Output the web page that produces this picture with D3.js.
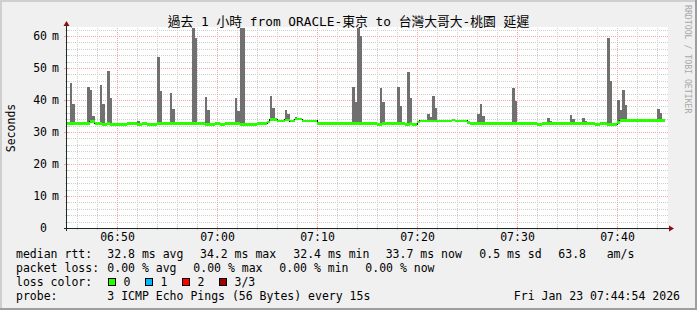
<!DOCTYPE html>
<html><head><meta charset="utf-8">
<script src="https://cdn.jsdelivr.net/npm/d3@7"></script>
<style>
body{margin:0;background:#f0f0f0}
svg{display:block}
text{font-family:"DejaVu Sans Mono","Noto Sans CJK TC",monospace;fill:#000}
</style>
</head><body><svg id="c" width="697" height="310"></svg>
<script>
// ---------------- data ----------------
const title = "過去 1 小時 from ORACLE-東京 to 台灣大哥大-桃園 延遲";
const yAxisTitle = "Seconds";
const watermark = "RRDTOOL / TOBI OETIKER";
const startTime = "06:45:00";
const endTime = "07:45:00";
const stepSeconds = 15;
const yMax = 62.5;
const yTickValues = [0, 10, 20, 30, 40, 50, 60];
const yTickLabels = ["0", "10", "20", "30", "40", "50", "60"];
const yTickUnits = ["", "m", "m", "m", "m", "m", "m"];
const xTickLabels = ["06:50", "07:00", "07:10", "07:20", "07:30", "07:40"];

// median rtt (ms), step function: value holds from time until next time
const medianTimes = ["06:45:00","06:47:15","06:47:45","06:48:30","06:49:00","06:49:15","06:51:00","06:52:00","06:52:30","06:53:00","06:54:00","06:58:45","06:59:45","07:00:15","07:00:45","07:02:15","07:04:00","07:05:00","07:05:15","07:06:00","07:06:45","07:07:15","07:07:45","07:08:30","07:10:00","07:16:00","07:16:30","07:18:45","07:19:15","07:19:30","07:20:00","07:20:15","07:23:30","07:23:45","07:25:00","07:25:15","07:32:00","07:32:30","07:37:45","07:38:15","07:39:00","07:40:00","07:40:15"];
const medianValues = [32.7,33.3,32.7,32.4,32.7,32.4,32.7,32.4,32.7,32.4,32.7,32.4,32.7,32.4,32.6,32.4,32.6,33.2,33.9,33.4,33.8,33.4,34.0,33.5,32.6,32.4,32.6,32.4,32.6,32.4,33.2,33.5,33.8,33.5,33.0,32.6,32.4,32.6,32.4,32.6,32.4,33.0,33.6];
const medianEnd = "07:44:45";

// smoke: highest ping (ms) per 15 s step where it rises above the median
const smokeTimes = ["06:45:15","06:45:30","06:47:00","06:47:15","06:47:30","06:48:15","06:48:30","06:49:00","06:49:15","06:52:00","06:54:00","06:54:15","06:55:15","06:55:30","06:56:15","06:57:30","06:57:45","06:58:45","06:59:00","07:01:45","07:02:00","07:02:15","07:02:30","07:05:15","07:05:30","07:06:45","07:07:00","07:07:45","07:08:00","07:13:30","07:13:45","07:14:00","07:14:15","07:16:15","07:16:30","07:18:00","07:18:15","07:19:00","07:19:15","07:21:00","07:21:15","07:21:30","07:21:45","07:26:00","07:26:15","07:26:30","07:29:30","07:29:45","07:33:00","07:33:15","07:35:15","07:35:30","07:36:30","07:36:45","07:39:00","07:39:15","07:40:00","07:40:15","07:40:30","07:40:45","07:44:00","07:44:15"];
const smokeMax = [45.3,38.8,44.2,43.1,35.0,44.7,38.8,49.2,40.6,33.4,53.5,42.8,42.2,37.2,33.0,65.0,59.4,40.9,36.9,40.6,36.6,66.0,64.0,41.3,37.5,36.9,35.6,34.7,34.4,44.1,39.4,64.0,60.0,43.8,39.4,44.1,38.1,48.8,40.6,35.6,34.7,41.3,37.5,35.6,38.8,35.0,43.8,39.8,34.4,33.4,35.3,34.1,34.4,33.4,59.4,45.9,40.0,36.9,43.1,38.4,37.2,35.9];

const rttLabel = "median rtt:";
const rttStats = ["32.8 ms avg","34.2 ms max","32.4 ms min","33.7 ms now","0.5 ms sd","63.8","am/s"];
const lossLabel = "packet loss:";
const lossStats = ["0.00 % avg","0.00 % max","0.00 % min","0.00 % now"];
const lossColorLabel = "loss color:";
const lossColorNames = ["0","1","2","3/3"];
const lossColors = ["#26ff00","#00b8ff","#ff0000","#a00000"];
const probeLabel = "probe:";
const probeText = "3 ICMP Echo Pings (56 Bytes) every 15s";
const stampText = "Fri Jan 23 07:44:54 2026";

// ---------------- drawing ----------------
const W = 697, H = 310;
const L = 67, R = 667, T = 28, B = 228;
const svg = d3.select("#c");
const parse = d3.timeParse("%H:%M:%S");

// background + frame
svg.append("rect").attr("width", W).attr("height", H).attr("fill", "#f0f0f0");
svg.append("path").attr("d", `M0,${H} V0 H${W}`).attr("fill","none").attr("stroke","#cfcfcf").attr("stroke-width",4);
svg.append("path").attr("d", `M${W},0 V${H} H0`).attr("fill","none").attr("stroke","#9e9e9e").attr("stroke-width",4);

svg.append("rect").attr("x", L).attr("y", T - 1).attr("width", R - L + 1).attr("height", B - T + 1).attr("fill", "#fff");

const x = d3.scaleTime().domain([parse(startTime), parse(endTime)]).range([L, R]);
const y = d3.scaleLinear().domain([0, yMax]).range([B, T]);

const g = svg.append("g").attr("shape-rendering", "crispEdges");

// grid
const gridMinor = "#cfcfcf", gridMajor = "#efa9a9";
const yMinor = d3.range(2, yMax, 2).filter(v => v % 10 !== 0);
g.selectAll(".hmin").data(yMinor).join("line")
  .attr("x1", L).attr("x2", R + 1).attr("y1", d => Math.round(y(d)) + 0.5).attr("y2", d => Math.round(y(d)) + 0.5)
  .attr("stroke", gridMinor).attr("stroke-dasharray", "1,1");
const xMinorTicks = x.ticks(d3.timeMinute.every(2));
const xMajorTicks = x.ticks(d3.timeMinute.every(10));
const isMajor = d => d.getMinutes() % 10 === 0;
g.selectAll(".vmin").data(xMinorTicks.filter(d => !isMajor(d) && x(d) > L)).join("line")
  .attr("x1", d => Math.round(x(d)) + 0.5).attr("x2", d => Math.round(x(d)) + 0.5).attr("y1", T).attr("y2", B)
  .attr("stroke", gridMinor).attr("stroke-dasharray", "1,1");
g.selectAll(".hmaj").data(yTickValues.filter(v => v > 0)).join("line")
  .attr("x1", L).attr("x2", R + 1).attr("y1", d => Math.round(y(d)) + 0.5).attr("y2", d => Math.round(y(d)) + 0.5)
  .attr("stroke", gridMajor).attr("stroke-dasharray", "1,1");
g.selectAll(".vmaj").data(xMajorTicks).join("line")
  .attr("x1", d => Math.round(x(d)) + 0.5).attr("x2", d => Math.round(x(d)) + 0.5).attr("y1", T).attr("y2", B)
  .attr("stroke", gridMajor).attr("stroke-dasharray", "1,1");

// ticks on axes
g.selectAll(".xt").data(xMinorTicks).join("line")
  .attr("x1", d => Math.round(x(d)) + 0.5).attr("x2", d => Math.round(x(d)) + 0.5)
  .attr("y1", B - 2).attr("y2", d => isMajor(d) ? B + 3 : B + 2)
  .attr("stroke", d => isMajor(d) ? gridMajor : gridMinor);
g.selectAll(".yt").data(d3.range(0, yMax, 2)).join("line")
  .attr("y1", d => Math.round(y(d)) + 0.5).attr("y2", d => Math.round(y(d)) + 0.5)
  .attr("x1", d => d % 10 === 0 ? L - 3 : L - 2).attr("x2", L + 2)
  .attr("stroke", d => d % 10 === 0 ? gridMajor : gridMinor);

// data
const clip = svg.append("clipPath").attr("id", "pc").append("rect")
  .attr("x", L).attr("y", T).attr("width", R - L).attr("height", B - T);
const dg = svg.append("g").attr("clip-path", "url(#pc)").attr("shape-rendering", "crispEdges");

const medDates = medianTimes.map(parse);
const medAt = t => medianValues[Math.max(0, d3.bisectRight(medDates, t) - 1)];
const smoke = smokeTimes.map((s, i) => ({ t: parse(s), v: smokeMax[i] }));
dg.selectAll(".smoke").data(smoke).join("rect")
  .attr("x", d => x(d.t))
  .attr("width", d => x(d3.timeSecond.offset(d.t, stepSeconds)) - x(d.t))
  .attr("y", d => y(d.v))
  .attr("height", d => y(medAt(d.t)) - y(d.v))
  .attr("fill", "#707070");

const medPts = medDates.map((t, i) => ({ t, v: medianValues[i] }));
const endDate = parse(medianEnd);
const medLine = d3.line().x(d => x(d.t)).y(d => y(d.v)).curve(d3.curveStepAfter);
dg.append("path").datum(medPts.concat([{ t: endDate, v: medianValues[medianValues.length - 1] }]))
  .attr("d", medLine).attr("fill", "none").attr("stroke", "#000").attr("stroke-width", 1);
const segs = medPts.map((d, i) => ({ t0: d.t, t1: i + 1 < medPts.length ? medPts[i + 1].t : endDate, v: d.v }));
dg.selectAll(".med").data(segs).join("rect")
  .attr("x", d => x(d.t0)).attr("width", d => x(d.t1) - x(d.t0))
  .attr("y", d => y(d.v) - 1.2).attr("height", 2.4)
  .attr("fill", lossColors[0]);

// axes
const axisColor = "#1e2a26", arrowColor = "#8a1010";
svg.append("line").attr("x1", L - 3).attr("x2", R + 3).attr("y1", B + 0.5).attr("y2", B + 0.5)
  .attr("stroke", axisColor).attr("shape-rendering", "crispEdges");
svg.append("line").attr("x1", L - 0.5).attr("x2", L - 0.5).attr("y1", B + 3).attr("y2", T - 3)
  .attr("stroke", axisColor).attr("shape-rendering", "crispEdges");
svg.append("path").attr("d", `M${L - 3.5},${T - 2} L${L - 0.5},${T - 7} L${L + 2.5},${T - 2} Z`).attr("fill", arrowColor);
svg.append("path").attr("d", `M${R + 2},${B - 2.5} L${R + 7},${B + 0.5} L${R + 2},${B + 3.5} Z`).attr("fill", arrowColor);

// tick labels
const fs = "11.5px";
const yl = svg.append("g").attr("font-size", fs);
yTickValues.forEach((v, i) => {
  yl.append("text").attr("x", 47).attr("y", y(v) + 4).attr("text-anchor", "end").text(yTickLabels[i]);
  if (yTickUnits[i]) yl.append("text").attr("x", 52).attr("y", y(v) + 4).text(yTickUnits[i]);
});
const xl = svg.append("g").attr("font-size", fs);
xTickLabels.forEach(s => {
  xl.append("text").attr("x", x(parse(s + ":00")) + 0.5).attr("y", 241).attr("text-anchor", "middle").text(s);
});

// titles
svg.append("text").attr("x", W / 2).attr("y", 26).attr("text-anchor", "middle").attr("font-size", "12.8px").text(title);
svg.append("text").attr("transform", `translate(15,${(T + B) / 2}) rotate(-90)`).attr("text-anchor", "middle")
  .attr("font-size", fs).text(yAxisTitle);
svg.append("text").attr("transform", `translate(685,5) rotate(90)`).attr("font-size", "8.2px")
  .style("fill", "#a8a8a8").text(watermark);

// legend
const lg = svg.append("g").attr("font-size", fs).attr("xml:space", "preserve");
const rows = [258, 272, 286, 299.5];
lg.append("text").attr("x", 16).attr("y", rows[0]).text(rttLabel);
[107.3, 200, 293.3, 385.7, 479.3, 558.3, 606.7].forEach((px, i) =>
  lg.append("text").attr("x", px).attr("y", rows[0]).text(rttStats[i]));
lg.append("text").attr("x", 16).attr("y", rows[1]).text(lossLabel);
[107.3, 193.3, 279.3, 365.3].forEach((px, i) =>
  lg.append("text").attr("x", px).attr("y", rows[1]).text(lossStats[i]));
lg.append("text").attr("x", 16).attr("y", rows[2]).text(lossColorLabel);
lossColorNames.forEach((n, i) => {
  const bx = 108.5 + i * 37;
  lg.append("rect").attr("x", bx).attr("y", 278.5).attr("width", 7).attr("height", 7)
    .attr("fill", lossColors[i]).attr("stroke", "#000").attr("shape-rendering", "crispEdges");
  lg.append("text").attr("x", bx + 15).attr("y", rows[2]).text(n);
});
lg.append("text").attr("x", 16).attr("y", rows[3]).text(probeLabel);
lg.append("text").attr("x", 107.3).attr("y", rows[3]).text(probeText);
lg.append("text").attr("x", 680).attr("y", rows[3]).attr("text-anchor", "end").text(stampText);
</script>
</body></html>
